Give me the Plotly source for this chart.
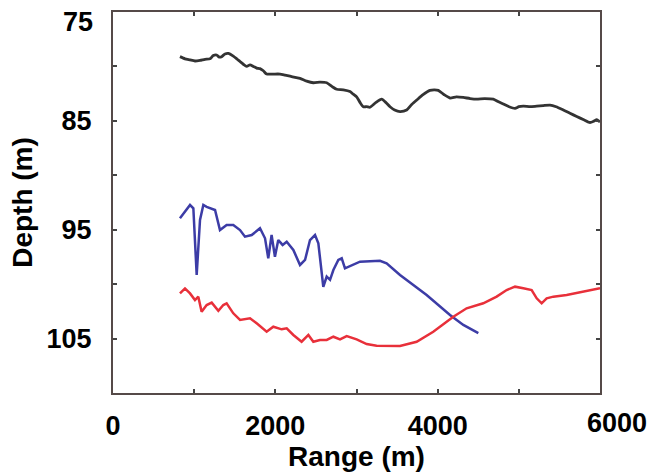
import plotly.graph_objects as go

# Black line (top interface)
black_x = [825, 887, 949, 1010, 1072, 1134, 1195, 1236, 1277, 1310, 1339, 1380, 1421, 1482, 1525, 1565, 1606, 1647, 1688,
           1729, 1770, 1811, 1852, 1893, 1975, 2057, 2120, 2181, 2243,
           2304, 2386, 2468, 2550, 2633, 2700, 2756, 2838, 2920, 2960, 3002, 3043, 3084, 3125, 3166, 3240, 3310, 3360,
           3413, 3470, 3536, 3618, 3680, 3741, 3820, 3905, 3960, 4008,
           4080, 4152, 4230, 4316, 4400, 4480, 4580, 4685, 4750, 4809, 4880, 4953, 5000, 5055, 5140, 5220, 5300,
           5384, 5460, 5548, 5630, 5713, 5800, 5877, 5930, 5959, 6000]
black_y = [79.1, 79.3, 79.4, 79.5, 79.45, 79.35, 79.3, 79.0, 78.95, 79.15, 79.1, 78.85, 78.8, 79.05, 79.3, 79.55, 79.8, 80.0, 79.85,
           80.0, 80.15, 80.2, 80.4, 80.7, 80.7, 80.7, 80.8, 80.9, 81.0,
           81.1, 81.35, 81.5, 81.45, 81.5, 81.85, 82.1, 82.15, 82.3, 82.55, 82.8, 83.3, 83.7, 83.7, 83.75, 83.3, 83.0, 83.3,
           83.7, 84.0, 84.15, 84.0, 83.5, 83.1, 82.6, 82.2, 82.15, 82.2,
           82.6, 82.9, 82.8, 82.85, 82.95, 83.0, 82.95, 83.0, 83.25, 83.45, 83.7, 83.85, 83.7, 83.65, 83.7, 83.65, 83.6,
           83.55, 83.7, 84.0, 84.3, 84.6, 84.9, 85.15, 85.0, 84.9, 85.1]

# Blue line
blue_x = [825, 887, 949, 990, 1031, 1072, 1113, 1154, 1195, 1257, 1318, 1400, 1482, 1565, 1626, 1709,
          1811, 1873, 1913, 1954, 1995, 2036, 2090, 2140, 2222, 2304, 2366, 2427, 2489, 2530, 2591,
          2633, 2674, 2715, 2776, 2818, 2858, 2961, 3043, 3289, 3371, 3536, 3864, 4152, 4316, 4501]
blue_y = [93.95, 93.35, 92.73, 93.03, 99.16, 94.1, 92.73, 92.9, 93.03, 93.19, 95.03, 94.57, 94.57, 95.03, 95.64, 95.49,
          94.87, 95.79, 97.63, 95.49, 97.48, 95.95, 96.4, 96.1, 96.86, 98.24, 97.78, 95.95, 95.49, 96.25, 100.24,
          99.3, 99.6, 98.7, 97.78, 97.63, 98.55, 98.24, 97.94, 97.85, 98.09, 99.16, 101.0, 102.83, 103.75, 104.5]

# Red line
red_x = [825, 887, 949, 1010, 1051, 1092, 1154, 1216, 1298, 1359, 1400, 1482, 1565, 1688, 1770,
         1893, 1975, 2078, 2140, 2222, 2324, 2407, 2468, 2550, 2633, 2715, 2797, 2879, 3002, 3125,
         3248, 3413, 3536, 3741, 3946, 4193, 4357, 4562, 4727, 4850, 4953, 5055, 5158, 5220, 5281,
         5343, 5425, 5589, 5795, 6000]
red_y = [100.85, 100.39, 100.85, 101.46, 101.15, 102.53, 101.92, 101.7, 102.44, 101.92, 101.76, 102.68, 103.29, 103.14, 103.6,
         104.37, 103.91, 104.15, 104.06, 104.67, 105.29, 104.67, 105.29, 105.13, 105.13, 104.83, 105.07, 104.77, 105.07, 105.5,
         105.66, 105.66, 105.68, 105.29, 104.37, 103.0, 102.22, 101.76, 101.15, 100.54, 100.23, 100.38, 100.54, 101.3, 101.76,
         101.3, 101.15, 101.0, 100.69, 100.38]

x_tickvals = [0, 1000, 2000, 3000, 4000, 5000, 6000]
x_ticktext = ["0", "", "2000", "", "4000", "", ""]
x_last_label = "6000"
y_tickvals = [75, 80, 85, 90, 95, 100, 105, 110]
y_ticktext = ["", "", "85", "", "95", "", "105", ""]
y_first_label = "75"

FAM = "Liberation Sans, Arial, sans-serif"

fig = go.Figure()
fig.add_trace(go.Scatter(x=black_x, y=black_y, mode="lines", line_shape="spline",
                         line=dict(color="#333333", width=2.8, smoothing=0.6), showlegend=False))
fig.add_trace(go.Scatter(x=blue_x, y=blue_y, mode="lines",
                         line=dict(color="#3c3ca6", width=2.5), showlegend=False))
fig.add_trace(go.Scatter(x=red_x, y=red_y, mode="lines",
                         line=dict(color="#e8303a", width=2.5), showlegend=False))

fig.update_layout(
    width=652, height=475,
    margin=dict(l=113, r=52, t=12, b=82),
    paper_bgcolor="white", plot_bgcolor="white",
    font=dict(family=FAM, size=27, color="black"),
)
fig.update_xaxes(
    range=[0, 6000], tickvals=x_tickvals, ticktext=x_ticktext,
    ticks="inside", ticklen=4, tickwidth=1.5, tickcolor="#444",
    showline=True, linecolor="#554a48", linewidth=2, mirror="ticks",
    showgrid=False, zeroline=False, ticklabelstandoff=8,
    tickfont=dict(family=FAM, size=27, color="black", weight="bold"),
    title=dict(text="<b>Range (m)</b>", standoff=0,
               font=dict(family=FAM, size=28, color="black")),
    automargin=False,
)
fig.update_yaxes(
    range=[110, 75], tickvals=y_tickvals, ticktext=y_ticktext,
    ticks="inside", ticklen=4, tickwidth=1.5, tickcolor="#444",
    showline=True, linecolor="#554a48", linewidth=2, mirror="ticks",
    showgrid=False, zeroline=False, ticklabelstandoff=14,
    tickfont=dict(family=FAM, size=27, color="black", weight="bold"),
    title=dict(text="<b>Depth (m)</b>", standoff=6,
               font=dict(family=FAM, size=28, color="black")),
    automargin=False,
)
fig.add_annotation(x=6000, y=0, xref="x", yref="paper", yanchor="top", xanchor="center",
                   text="<b>" + x_last_label + "</b>", showarrow=False, xshift=17, yshift=-13,
                   font=dict(family=FAM, size=27, color="black"))
fig.add_annotation(x=0, y=75, xref="paper", yref="y", yanchor="top", xanchor="right",
                   text="<b>" + y_first_label + "</b>", showarrow=False, xshift=-18, yshift=7,
                   font=dict(family=FAM, size=27, color="black"))

fig.write_html("out.html")
